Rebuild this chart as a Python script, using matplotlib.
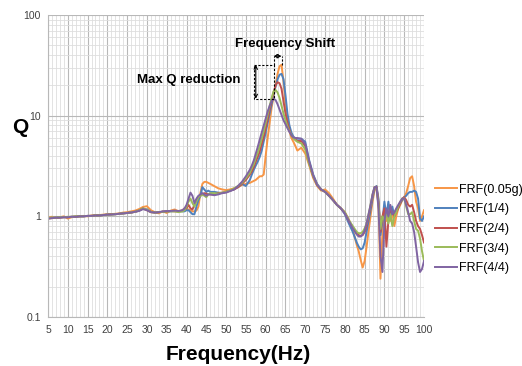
import numpy as np
import matplotlib
matplotlib.use("Agg")
from matplotlib import pyplot as plt
from matplotlib.ticker import FixedLocator, MultipleLocator, LogLocator, NullFormatter

plt.rcParams['font.family'] = ['Liberation Sans', 'DejaVu Sans']

# Frecuencias (Hz): paso de 1 Hz, paso de 0.5 Hz en las zonas con mas detalle
frecuencias = np.concatenate([
    np.arange(5, 40, 1.0),        # 5..39
    np.arange(39.5, 46.5, 0.5),   # 39.5..46
    np.arange(47, 57, 1.0),       # 47..56
    np.arange(56.5, 68.5, 0.5),   # 56.5..68
    np.arange(69, 84, 1.0),       # 69..83
    np.arange(83.5, 100.5, 0.5),  # 83.5..100
])

q_005g = [
    0.97, 0.99, 0.96, 0.98, 1.00, 0.95, 0.98, 1.00, 1.00, 1.01, 1.00, 1.02, 1.03, 1.03, 1.04, 1.05, 1.05, 1.06,
    1.07, 1.09, 1.10, 1.12, 1.14, 1.18, 1.24, 1.26, 1.15, 1.10, 1.07, 1.12, 1.08, 1.14, 1.17, 1.12, 1.14,
    1.15, 1.18, 1.17, 1.15, 1.12, 1.12, 1.14, 1.25, 1.70, 2.10, 2.20, 2.20, 2.15, 2.10,
    2.00, 1.90, 1.85, 1.82, 1.85, 1.90, 1.95, 2.05, 2.10, 2.15,
    2.20, 2.25, 2.30, 2.40, 2.50, 2.50, 2.60, 4.00, 6.00, 8.50, 12.0, 15.5, 20.0, 26.0, 31.0, 32.0,
    22.0, 13.0, 9.0, 7.0, 6.0, 5.5, 5.0, 4.5,
    4.8, 4.2, 3.2, 2.4, 2.0, 1.8, 1.85, 1.7, 1.5, 1.3, 1.2, 1.1, 0.93, 0.74, 0.52,
    0.45, 0.37, 0.31, 0.36, 0.50, 0.72, 1.00, 1.40, 1.80, 2.00, 1.30, 0.24, 0.70, 1.10, 0.90, 1.30, 0.90,
    1.10, 0.80, 1.00, 1.20, 1.30, 1.45, 1.55, 1.70, 2.00, 2.40, 2.50, 2.00, 1.40, 1.20, 0.90, 1.00, 1.15,
]
q_1_4 = [
    0.96, 0.97, 0.97, 0.98, 0.98, 0.98, 0.99, 0.99, 1.00, 1.00, 1.01, 1.01, 1.02, 1.02, 1.03, 1.04, 1.05, 1.05,
    1.06, 1.07, 1.08, 1.09, 1.11, 1.14, 1.19, 1.17, 1.11, 1.09, 1.10, 1.11, 1.12, 1.12, 1.13, 1.13, 1.12,
    1.12, 1.15, 1.15, 1.10, 1.05, 1.05, 1.25, 1.45, 1.60, 1.95, 1.85, 1.75, 1.80, 1.75,
    1.75, 1.72, 1.70, 1.75, 1.80, 1.85, 1.95, 2.10, 2.00, 2.30,
    2.6, 2.9, 3.2, 3.5, 3.9, 4.5, 5.5, 6.8, 8.5, 10.5, 13.0, 16.0, 19.5, 23.0, 25.5, 26.0,
    23.0, 16.0, 10.5, 8.0, 6.8, 6.2, 5.9, 5.9,
    5.9, 5.5, 3.6, 2.6, 2.1, 1.85, 1.75, 1.6, 1.45, 1.3, 1.2, 1.05, 0.85, 0.70, 0.55,
    0.50, 0.47, 0.48, 0.55, 0.70, 0.90, 1.15, 1.50, 1.90, 2.00, 1.50, 0.65, 0.90, 1.40, 1.00, 1.40, 1.00,
    1.25, 1.00, 1.15, 1.25, 1.35, 1.45, 1.55, 1.60, 1.70, 1.75, 1.75, 1.80, 1.75, 1.50, 0.95, 0.90, 1.00,
]
q_2_4 = [
    0.95, 0.96, 0.97, 0.97, 0.98, 0.98, 0.99, 0.99, 1.00, 1.00, 1.01, 1.01, 1.02, 1.02, 1.03, 1.04, 1.05, 1.05,
    1.06, 1.07, 1.08, 1.09, 1.11, 1.14, 1.20, 1.15, 1.10, 1.09, 1.10, 1.11, 1.12, 1.13, 1.12, 1.12, 1.15,
    1.20, 1.20, 1.30, 1.20, 1.17, 1.30, 1.45, 1.55, 1.60, 1.65, 1.70, 1.68, 1.65, 1.65,
    1.65, 1.70, 1.72, 1.75, 1.80, 1.85, 1.95, 2.10, 2.30, 2.60,
    2.8, 3.1, 3.5, 3.9, 4.4, 5.2, 6.2, 7.5, 9.2, 11.5, 14.0, 17.0, 20.0, 21.5, 21.0, 18.5,
    14.0, 10.5, 8.5, 7.2, 6.4, 6.0, 5.8, 5.6,
    5.6, 5.0, 3.4, 2.5, 2.05, 1.85, 1.75, 1.6, 1.45, 1.3, 1.2, 1.08, 0.90, 0.78, 0.68,
    0.65, 0.64, 0.65, 0.70, 0.80, 1.00, 1.25, 1.60, 1.95, 1.95, 1.40, 0.70, 1.00, 1.20, 0.50, 0.90, 1.20,
    1.10, 1.00, 1.10, 1.20, 1.35, 1.50, 1.55, 1.45, 1.30, 1.25, 1.30, 1.10, 0.90, 0.80, 0.75, 0.65, 0.55,
]
q_3_4 = [
    0.96, 0.97, 0.97, 0.98, 0.98, 0.99, 0.99, 1.00, 1.00, 1.00, 1.01, 1.01, 1.02, 1.02, 1.03, 1.04, 1.04, 1.05,
    1.06, 1.07, 1.08, 1.09, 1.11, 1.14, 1.20, 1.16, 1.10, 1.09, 1.10, 1.11, 1.12, 1.12, 1.12, 1.10, 1.12,
    1.15, 1.25, 1.40, 1.50, 1.35, 1.25, 1.40, 1.55, 1.60, 1.65, 1.60, 1.55, 1.65, 1.70,
    1.70, 1.68, 1.72, 1.75, 1.80, 1.90, 2.00, 2.15, 2.40, 2.70,
    3.0, 3.3, 3.8, 4.3, 5.0, 5.9, 7.0, 8.5, 10.3, 12.5, 15.0, 17.5, 18.0, 17.0, 15.0, 12.5,
    10.5, 9.0, 7.8, 7.0, 6.4, 6.0, 5.7, 5.5,
    5.3, 4.6, 3.3, 2.5, 2.05, 1.85, 1.75, 1.6, 1.45, 1.3, 1.2, 1.1, 0.92, 0.80, 0.70,
    0.68, 0.68, 0.70, 0.76, 0.85, 1.05, 1.30, 1.65, 1.95, 1.90, 1.30, 0.75, 1.00, 0.90, 1.10, 0.85, 1.05,
    0.80, 1.00, 1.10, 1.25, 1.40, 1.50, 1.50, 1.25, 1.05, 1.05, 1.10, 0.90, 0.75, 0.72, 0.60, 0.45, 0.36,
]
q_4_4 = [
    0.95, 0.96, 0.97, 0.97, 0.98, 0.98, 0.99, 0.99, 1.00, 1.00, 1.01, 1.01, 1.02, 1.02, 1.03, 1.04, 1.04, 1.05,
    1.06, 1.07, 1.08, 1.09, 1.11, 1.13, 1.18, 1.15, 1.10, 1.09, 1.10, 1.12, 1.13, 1.13, 1.14, 1.13, 1.15,
    1.20, 1.30, 1.50, 1.72, 1.60, 1.35, 1.50, 1.60, 1.65, 1.70, 1.65, 1.60, 1.65, 1.65,
    1.62, 1.65, 1.70, 1.72, 1.78, 1.85, 2.00, 2.20, 2.50, 2.90,
    3.2, 3.6, 4.2, 4.9, 5.8, 6.8, 8.0, 9.5, 11.0, 12.5, 14.0, 14.7, 14.3, 13.0, 11.5, 10.2,
    9.0, 8.2, 7.5, 6.9, 6.4, 6.1, 6.0, 6.0,
    5.9, 5.2, 3.5, 2.55, 2.05, 1.85, 1.75, 1.6, 1.45, 1.3, 1.2, 1.07, 0.90, 0.76, 0.66,
    0.63, 0.63, 0.66, 0.72, 0.85, 1.05, 1.30, 1.65, 1.95, 1.95, 1.20, 0.40, 0.28, 0.90, 1.20, 1.00, 1.30,
    1.05, 1.10, 1.20, 1.30, 1.40, 1.50, 1.50, 1.30, 1.10, 0.90, 0.85, 0.70, 0.50, 0.35, 0.28, 0.30, 0.36,
]

etiquetas = ["FRF(0.05g)", "FRF(1/4)", "FRF(2/4)", "FRF(3/4)", "FRF(4/4)"]
colores = ["#F79646", "#4F81BD", "#C0504D", "#9BBB59", "#8064A2"]
series = [q_005g, q_1_4, q_2_4, q_3_4, q_4_4]

fig = plt.figure(figsize=(5.22, 3.66), dpi=100)
ax = fig.add_axes([48 / 522, 49 / 366, 376 / 522, 302 / 366])

for q, color, etiqueta in zip(series, colores, etiquetas):
    ax.plot(frecuencias, q, color=color, lw=1.4, label=etiqueta)

ax.set_yscale('log')
ax.set_xlim(5, 100)
ax.set_ylim(0.1, 100)

ax.xaxis.set_major_locator(FixedLocator(np.arange(5, 101, 5)))
ax.xaxis.set_minor_locator(MultipleLocator(1))
ax.yaxis.set_major_locator(FixedLocator([0.1, 1, 10, 100]))
ax.set_yticklabels(["0.1", "1", "10", "100"])
ax.yaxis.set_minor_locator(LogLocator(base=10, subs=np.arange(2, 10)))
ax.yaxis.set_minor_formatter(NullFormatter())

ax.grid(which='major', color='#b8b8b8', lw=0.8)
ax.grid(which='minor', color='#dedede', lw=0.6)
ax.set_axisbelow(True)
ax.tick_params(which='both', length=0, labelsize=7.5, labelcolor='#404040', pad=5)
ax.tick_params(axis='x', pad=6)
for lado in ['top', 'right']:
    ax.spines[lado].set_visible(False)
for lado in ['left', 'bottom']:
    ax.spines[lado].set_color('#b8b8b8')

fig.text(20 / 522, 1 - 127 / 366, "Q", fontsize=15, fontweight='bold', ha='center', va='center')
fig.text(238 / 522, 1 - 355 / 366, "Frequency(Hz)", fontsize=15, fontweight='bold', ha='center', va='center')

# Anotaciones a partir de los picos
f_arr = np.asarray(frecuencias)
i_max = int(np.argmax(q_005g))
i_min = int(np.argmax(q_4_4))
q_top, f_top = q_005g[i_max], f_arr[i_max]
q_bot, f_bot = q_4_4[i_min], f_arr[i_min]
f_box = 57.0
q_shift = 39.0

ax.plot([f_box, f_bot, f_bot, f_box, f_box], [q_top, q_top, q_bot, q_bot, q_top],
        color='black', ls=(0, (2, 1.5)), lw=0.8)
ax.plot([f_bot, f_bot], [q_top, q_shift], color='black', ls=(0, (2, 1.5)), lw=0.8)
ax.plot([f_top, f_top], [q_top, q_shift], color='black', ls=(0, (2, 1.5)), lw=0.8)
ax.annotate("", xy=(f_box + 0.5, q_top), xytext=(f_box + 0.5, q_bot),
            arrowprops=dict(arrowstyle='<->', lw=0.8, color='black', shrinkA=0, shrinkB=0,
                            mutation_scale=6))
ax.annotate("", xy=(f_bot, q_shift), xytext=(f_top, q_shift),
            arrowprops=dict(arrowstyle='<->', lw=0.8, color='black', shrinkA=0, shrinkB=0,
                            mutation_scale=6))

ax.text(f_top + 0.8, 52, "Frequency Shift", fontsize=9.5, fontweight='bold', ha='center', va='center')
ax.text(f_box - 3.4, 22.5, "Max Q reduction", fontsize=9.5, fontweight='bold', ha='right', va='center')

fig.legend(loc='center left', bbox_to_anchor=(435 / 522, 1 - 229 / 366), bbox_transform=fig.transFigure,
           frameon=False, fontsize=9, handlelength=1.75, handletextpad=0.15, labelspacing=0.62,
           borderpad=0, borderaxespad=0)

fig.savefig("out.png", dpi=100)
